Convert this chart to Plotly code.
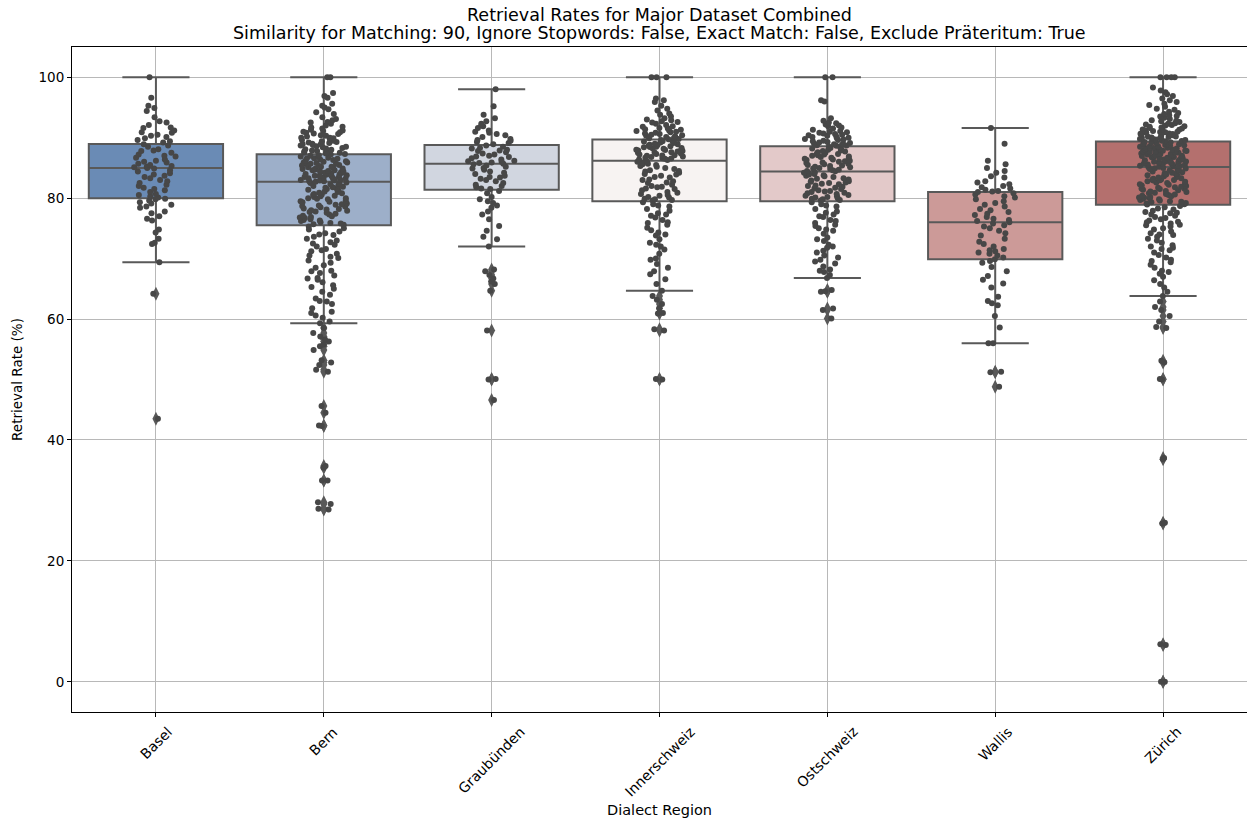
import plotly.graph_objects as go

# Dialect regions and box colours
regions = ["Basel", "Bern", "Graubünden", "Innerschweiz", "Ostschweiz", "Wallis", "Zürich"]
box_colors = ["#6a8bb5", "#9dafc9", "#d1d6e0", "#f7f3f2", "#e3c9c9", "#cc9a98", "#b4706e"]

# Box statistics per region (retrieval rate, %)
q1 = [80.0, 75.5, 81.4, 79.5, 79.5, 69.9, 78.9]
median = [85.0, 82.7, 85.7, 86.2, 84.4, 76.0, 85.15]
q3 = [88.95, 87.25, 88.8, 89.7, 88.6, 81.0, 89.35]
lower_whisker = [69.4, 59.3, 72.0, 64.7, 66.8, 56.0, 63.8]
upper_whisker = [100.0, 100.0, 98.0, 100.0, 100.0, 91.6, 100.0]

# Per-file retrieval rates for each region
basel = [
    100.0, 96.6, 95.3, 94.9, 94.4, 93.4, 92.7, 92.5, 92.1, 91.7, 91.6, 91.2, 90.9, 90.8, 90.5,
    90.3, 90.1, 89.9, 89.6, 89.4, 89.2,
    88.9, 88.7, 88.5, 88.1, 87.9, 87.8, 87.5, 87.2, 87.0, 86.9, 86.7, 86.4, 86.2, 86.0, 85.9,
    85.7, 85.5, 85.3, 85.2, 85.1, 85.0,
    84.9, 84.6, 84.4, 84.1, 83.9, 83.7, 83.5, 83.3, 83.0, 82.8, 82.5, 82.2, 82.0, 81.7, 81.5,
    81.3, 81.0, 80.7, 80.5, 80.3, 80.1,
    79.9, 79.8, 79.6, 79.3, 79.1, 78.9, 78.6, 78.4, 77.8, 77.5, 77.0, 76.6, 76.3, 74.8, 74.3,
    73.3, 72.6, 72.4, 69.4, 64.2, 43.5,
]
bern = [
    100.0, 100.0, 97.4, 96.9, 96.6, 95.6, 95.3, 95.0, 94.7, 94.2, 93.9, 93.4, 93.1, 92.9, 92.5,
    92.3, 92.0, 91.8, 91.7, 91.3, 91.1, 91.0, 90.9, 90.6, 90.4, 90.3, 90.0, 90.0, 89.8, 89.6,
    89.5, 89.3, 89.1, 89.0, 88.9, 88.7, 88.6, 88.5, 88.2, 88.1, 88.0, 87.9, 87.8, 87.6, 87.5,
    87.5, 87.4, 87.3, 91.5, 90.8, 89.9, 89.4, 88.8, 88.3, 87.7, 92.6, 90.2, 88.4, 89.2, 91.2,
    90.7, 88.9,
    87.2, 87.0, 86.9, 86.7, 86.6, 86.4, 86.2, 86.1, 85.9, 85.7, 85.7, 85.5, 85.4, 85.2, 85.0,
    84.9, 84.8, 84.6, 84.4, 84.3, 84.2, 84.0, 83.9, 83.7, 83.5, 83.3, 83.3, 83.1, 83.0, 82.9,
    82.8, 86.8, 86.3, 85.8, 85.6, 85.1, 84.7, 84.5, 84.1, 83.8, 83.6, 83.4, 83.2, 82.9, 86.5,
    85.3, 84.6, 83.9, 86.0, 84.9, 83.5, 87.1, 85.9, 84.4, 83.0, 82.8, 86.6, 85.2, 84.2, 83.7,
    82.7,
    82.6, 82.4, 82.3, 82.1, 81.9, 81.8, 81.6, 81.5, 81.3, 81.1, 81.0, 80.8, 80.7, 80.5, 80.3,
    80.0, 80.0, 79.8, 79.6, 79.5, 79.3, 79.0, 78.9, 78.7, 78.5, 78.3, 78.1, 78.0, 77.8, 77.6,
    77.4, 77.3, 77.1, 76.9, 76.7, 76.5, 76.3, 76.2, 76.0, 75.8, 75.6, 82.5, 82.0, 81.4, 80.9,
    80.4, 79.9, 79.4, 78.8, 78.2, 77.7, 77.0, 76.4, 75.9, 81.7, 80.6, 79.1, 77.9, 76.8, 75.7,
    80.2, 78.6,
    75.3, 75.0, 74.8, 74.5, 74.2, 73.9, 73.6, 73.3, 73.0, 72.7, 72.3, 72.0, 71.6, 71.2, 70.8,
    70.5, 70.1, 69.7, 69.3, 68.9, 68.5, 68.0, 67.6, 67.2, 66.8, 66.5, 66.1, 65.6, 65.0, 64.5,
    64.0, 63.4, 62.9, 62.5, 61.8, 61.2, 60.6, 60.2, 59.6, 59.3, 74.0, 72.5, 70.3, 67.9, 65.3,
    63.0, 61.0, 66.7, 71.4,
    58.5, 57.7, 57.1, 56.6, 56.3, 55.8, 55.5, 54.9, 53.2, 52.8, 52.4, 51.6, 51.3, 45.6, 44.5,
    42.4, 42.3, 35.7, 35.4, 33.3, 33.3, 29.7, 29.4, 28.6, 28.5,
]
graubuenden = [
    98.0, 95.2, 93.8, 93.2, 92.7, 92.3, 91.9, 91.6, 91.2, 90.8, 90.4, 90.1, 89.8, 89.5, 89.3,
    89.1, 88.9, 90.6, 91.0, 89.6, 92.0,
    88.7, 88.5, 88.3, 88.0, 87.8, 87.6, 87.4, 87.2, 87.0, 86.8, 86.6, 86.4, 86.2, 86.0, 85.9,
    85.8, 85.7, 87.9, 86.9, 86.1, 88.2,
    85.6, 85.4, 85.2, 85.0, 84.7, 84.4, 84.2, 84.0, 83.7, 83.4, 83.2, 83.0, 82.8, 82.5, 82.2,
    82.0, 81.8, 81.6, 81.5, 84.9, 83.5,
    81.2, 80.8, 80.2, 79.8, 79.5, 79.2, 78.8, 78.4, 77.8, 77.3, 76.5, 75.4, 74.6, 73.6, 73.2,
    72.0, 68.2, 67.9, 67.3, 66.7, 66.2, 65.8, 64.7, 58.1, 50.1, 50.0, 46.6,
]
innerschweiz = [
    100.0, 100.0, 100.0, 96.5, 96.2, 95.9, 95.3, 94.8, 94.5, 94.0, 93.8, 93.5, 93.2, 92.9, 92.7,
    92.5, 92.3, 92.1, 91.9, 91.8, 91.6, 91.4, 91.3, 91.1, 91.0, 90.9, 90.7, 90.6, 90.5, 90.3,
    90.2, 90.1, 90.0, 89.9, 89.8, 92.6, 91.5, 90.8, 90.4, 93.0, 91.2, 89.75,
    89.6, 89.5, 89.4, 89.3, 89.2, 89.1, 89.0, 88.9, 88.8, 88.7, 88.6, 88.5, 88.4, 88.3, 88.2,
    88.1, 88.0, 87.9, 87.8, 87.7, 87.6, 87.5, 87.4, 87.3, 87.2, 87.1, 87.0, 86.9, 86.8, 86.7,
    86.6, 86.5, 86.4, 86.3, 88.85, 88.45, 87.95, 87.55, 87.05, 86.55, 89.35, 88.15,
    86.1, 85.9, 85.7, 85.5, 85.2, 85.0, 84.8, 84.5, 84.2, 84.0, 83.7, 83.4, 83.1, 82.8, 82.5,
    82.2, 81.9, 81.6, 81.3, 81.0, 80.7, 80.4, 80.1, 79.8, 79.6, 85.6, 84.6, 83.5, 82.6, 81.5,
    80.5, 79.9, 85.3, 83.9, 82.0, 80.2, 84.4, 81.8, 86.0, 83.0, 80.9, 79.7,
    79.3, 79.0, 78.6, 78.2, 77.9, 77.5, 77.1, 76.8, 76.4, 76.0, 75.6, 75.1, 74.7, 74.3, 73.8,
    73.2, 72.6, 72.0, 71.5, 70.8, 70.0, 69.1, 68.5, 67.4, 66.6, 65.8, 64.7, 78.8, 77.3, 75.9,
    74.0, 72.3, 69.8, 67.9, 63.8, 63.2, 62.5, 61.8, 61.0, 60.9, 58.3, 58.1, 50.1, 50.0,
]
ostschweiz = [
    100.0, 100.0, 96.2, 96.0, 93.2, 92.8, 92.5, 92.2, 92.0, 91.7, 91.5, 91.3, 91.1, 90.9, 90.8,
    90.6, 90.4, 90.3, 90.1, 90.0, 89.9, 89.7, 89.6, 89.5, 89.3, 89.2, 89.1, 89.0, 88.9, 88.8,
    88.7, 91.9, 90.7, 89.8, 89.4, 88.75, 92.4, 91.0, 90.2, 89.05, 88.65, 90.5,
    88.5, 88.4, 88.2, 88.1, 87.9, 87.8, 87.6, 87.5, 87.3, 87.2, 87.0, 86.9, 86.7, 86.6, 86.4,
    86.3, 86.1, 86.0, 85.8, 85.7, 85.5, 85.4, 85.2, 85.1, 84.9, 84.8, 84.6, 84.5, 88.3, 87.7,
    87.1, 86.5, 85.9, 85.3, 84.7, 88.0, 86.8, 85.6, 84.45, 87.4, 86.2, 85.0,
    84.3, 84.1, 83.9, 83.7, 83.5, 83.3, 83.1, 82.9, 82.7, 82.5, 82.3, 82.1, 81.9, 81.7, 81.5,
    81.3, 81.1, 80.9, 80.7, 80.5, 80.3, 80.1, 79.9, 79.7, 79.6, 84.0, 83.2, 82.4, 81.6, 80.8,
    80.0, 83.6, 82.0, 80.4, 83.8, 82.8, 81.2, 79.8, 84.2, 82.6, 81.0, 80.2,
    79.3, 79.0, 78.6, 78.2, 77.8, 77.3, 76.9, 76.4, 75.9, 75.4, 75.0, 74.6, 74.1, 73.5, 72.9,
    72.3, 71.8, 71.3, 70.5, 69.8, 69.2, 68.7, 68.2, 67.8, 67.3, 66.8, 78.8, 77.6, 76.2, 74.8,
    73.2, 71.0, 69.5, 68.0, 72.0, 75.6, 64.8, 64.6, 64.5, 61.75, 61.5, 60.1, 77.0, 70.2,
]
wallis = [
    91.6, 89.0, 86.2, 85.6, 85.0, 84.5, 84.2, 83.6, 83.4, 82.8, 82.6, 82.3, 82.0, 81.8, 81.6,
    81.4, 81.2, 81.1, 81.0,
    80.8, 80.6, 80.3, 80.1, 79.8, 79.5, 79.2, 78.9, 78.6, 78.2, 78.0, 77.7, 77.4, 77.2, 76.9,
    76.6, 76.4, 76.2, 76.0,
    75.8, 75.5, 75.3, 75.0, 74.6, 74.2, 73.8, 73.3, 72.8, 72.4, 72.0, 71.6, 71.4, 71.2, 71.0,
    70.8, 70.5, 70.2, 69.9,
    69.6, 69.3, 68.6, 67.9, 67.1, 66.5, 65.9, 65.2, 63.7, 63.0, 62.6, 62.3, 60.5, 58.6, 56.0,
    56.0, 51.3, 51.2, 48.8,
]
zuerich = [
    100.0, 100.0, 100.0, 100.0, 98.3, 97.8, 97.5, 97.2, 96.9, 96.5, 96.2, 95.9, 95.6, 95.4, 95.1,
    94.8, 94.6, 94.3, 94.1, 93.9, 93.7, 93.5, 93.3, 93.1, 92.9, 92.8, 92.6, 92.4, 92.3, 92.1,
    92.0, 91.9, 91.7, 91.6, 91.5, 91.3, 91.2, 91.1, 91.0, 90.9, 90.8, 90.7, 90.6, 90.5, 90.4,
    90.3, 90.2, 90.1, 90.0, 89.9, 89.8, 89.7, 89.6, 89.5, 89.4, 92.7, 91.8, 91.4, 90.95, 90.55,
    90.15, 89.85, 89.45, 93.6, 92.2, 91.35, 90.65, 90.05,
    89.3, 89.2, 89.1, 89.0, 88.9, 88.8, 88.7, 88.6, 88.5, 88.4, 88.3, 88.2, 88.1, 88.0, 87.9,
    87.8, 87.7, 87.6, 87.5, 87.4, 87.3, 87.2, 87.1, 87.0, 86.9, 86.8, 86.7, 86.6, 86.5, 86.4,
    86.3, 86.2, 86.1, 86.0, 85.9, 85.8, 85.7, 85.6, 85.5, 85.4, 85.3, 85.2, 89.25, 88.75, 88.25,
    87.75, 87.25, 86.75, 86.25, 85.75, 85.25, 89.05, 88.55, 88.05, 87.55, 87.05, 86.55, 86.05,
    85.55, 88.95, 87.85, 86.95, 85.85, 88.35, 87.35, 86.35, 85.35, 87.65,
    85.1, 85.0, 84.9, 84.7, 84.6, 84.5, 84.3, 84.2, 84.0, 83.9, 83.8, 83.6, 83.5, 83.3, 83.2,
    83.0, 82.9, 82.7, 82.6, 82.4, 82.3, 82.1, 82.0, 81.8, 81.7, 81.5, 81.4, 81.2, 81.1, 80.9,
    80.8, 80.6, 80.5, 80.3, 80.2, 80.0, 79.9, 79.7, 79.6, 79.4, 79.3, 79.1, 79.0, 84.8, 84.1,
    83.4, 82.8, 82.2, 81.6, 81.0, 80.4, 79.8, 79.2, 84.4, 83.7, 83.1, 82.5, 81.9, 81.3, 80.7,
    80.1, 79.5, 84.95, 83.05, 81.55, 80.05, 78.95, 82.95,
    78.7, 78.5, 78.3, 78.1, 77.9, 77.7, 77.5, 77.3, 77.1, 76.9, 76.7, 76.5, 76.3, 76.0, 75.8,
    75.6, 75.3, 75.0, 74.8, 74.5, 74.2, 73.9, 73.6, 73.3, 73.0, 72.6, 72.2, 71.8, 71.4, 71.0,
    70.6, 70.2, 69.8, 69.4, 69.0, 68.5, 68.0, 67.5, 67.0, 66.4, 65.8, 65.2, 64.5, 63.8, 77.6,
    76.1, 74.0, 72.0, 69.6, 67.8, 75.5, 71.6, 62.9, 62.0, 61.5, 60.5, 59.6, 58.7, 58.5, 53.1,
    52.8, 50.1, 50.0, 37.0, 36.8, 26.3, 26.2, 6.2, 6.1, 0.0, 0.0,
]
rates = [basel, bern, graubuenden, innerschweiz, ostschweiz, wallis, zuerich]

title_lines = [
    "Retrieval Rates for Major Dataset Combined",
    "Similarity for Matching: 90, Ignore Stopwords: False, Exact Match: False, Exclude Präteritum: True",
]

LINE_GRAY = "#595959"
DOT_GRAY = "#474747"
FONT = "DejaVu Sans"
W, H = 1247, 821
M_L, M_R, M_T, M_B = 72, 0, 47, 109
PLOT_H = H - M_T - M_B

fig = go.Figure()

# Boxes with whiskers
for i, reg in enumerate(regions):
    fig.add_trace(go.Box(
        x=[reg], q1=[q1[i]], median=[median[i]], q3=[q3[i]],
        lowerfence=[lower_whisker[i]], upperfence=[upper_whisker[i]],
        fillcolor=box_colors[i], line=dict(color=LINE_GRAY, width=2),
        whiskerwidth=0.5, width=0.8, boxpoints=False, showlegend=False,
        hoverinfo="skip",
    ))

# Fliers: values beyond the whiskers, drawn as diamonds on the box centre line
for i, reg in enumerate(regions):
    fl = [v for v in rates[i] if v < lower_whisker[i] or v > upper_whisker[i]]
    if not fl:
        continue
    fig.add_trace(go.Box(
        x=[reg] * len(fl), y=fl, boxpoints="all", jitter=0, pointpos=0, width=0.8,
        fillcolor="rgba(0,0,0,0)", line=dict(color="rgba(0,0,0,0)", width=0),
        marker=dict(symbol="diamond-tall", size=10, color=LINE_GRAY),
        showlegend=False, hoverinfo="y",
    ))

# Jittered strip of all values
for i, reg in enumerate(regions):
    vals = rates[i]
    fig.add_trace(go.Box(
        x=[reg] * len(vals), y=vals, boxpoints="all", jitter=0.36, pointpos=0, width=0.8,
        fillcolor="rgba(0,0,0,0)", line=dict(color="rgba(0,0,0,0)", width=0),
        marker=dict(symbol="circle", size=6, color=DOT_GRAY),
        showlegend=False, hoverinfo="y",
    ))

# Two-line title above the axes
annotations = [
    dict(text=title_lines[0], x=0.5, xref="paper", xanchor="center",
         y=1 + (M_T - 15) / PLOT_H, yref="paper", yanchor="middle",
         showarrow=False, font=dict(family=FONT, size=17.5, color="black")),
    dict(text=title_lines[1], x=0.5, xref="paper", xanchor="center",
         y=1 + (M_T - 33) / PLOT_H, yref="paper", yanchor="middle",
         showarrow=False, font=dict(family=FONT, size=17.5, color="black")),
]
# Category labels rotated 45 degrees and centred under their ticks
for reg in regions:
    annotations.append(dict(
        text=reg, x=reg, xref="x", xanchor="center",
        y=-9 / PLOT_H, yref="paper", yanchor="top",
        textangle=-45, showarrow=False,
        font=dict(family=FONT, size=14, color="black"),
    ))

fig.update_layout(
    width=W, height=H,
    margin=dict(l=M_L, r=M_R, t=M_T, b=M_B),
    paper_bgcolor="white", plot_bgcolor="white",
    boxmode="overlay",
    font=dict(family=FONT, size=13, color="black"),
    annotations=annotations,
    xaxis=dict(
        categoryorder="array", categoryarray=regions,
        range=[-0.5, 6.5],
        showgrid=True, gridcolor="#b8b8b8", gridwidth=1,
        showline=True, linecolor="black", linewidth=1, mirror=True,
        ticks="outside", ticklen=4, tickcolor="black",
        showticklabels=False,
        title=dict(text="Dialect Region", font=dict(size=14.5), standoff=88),
        zeroline=False,
    ),
    yaxis=dict(
        range=[-5, 105],
        tickvals=[0, 20, 40, 60, 80, 100],
        showgrid=True, gridcolor="#b8b8b8", gridwidth=1,
        showline=True, linecolor="black", linewidth=1,
        ticks="outside", ticklen=4, tickcolor="black",
        tickfont=dict(size=13.5),
        title=dict(text="Retrieval Rate (%)", font=dict(size=13.5), standoff=12),
        zeroline=False,
    ),
)

fig.write_html("out.html")
